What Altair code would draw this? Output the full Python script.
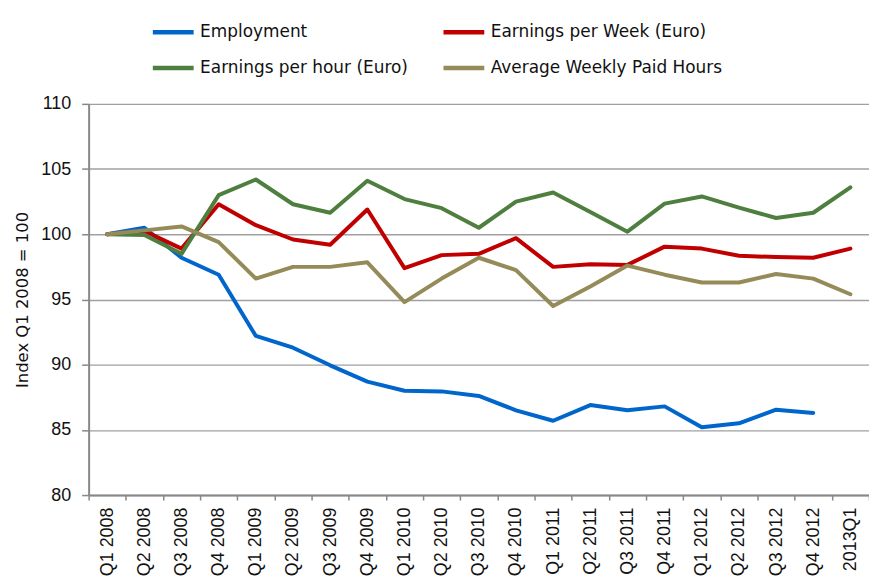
import altair as alt
import pandas as pd

quarters = ["Q1 2008", "Q2 2008", "Q3 2008", "Q4 2008",
            "Q1 2009", "Q2 2009", "Q3 2009", "Q4 2009",
            "Q1 2010", "Q2 2010", "Q3 2010", "Q4 2010",
            "Q1 2011", "Q2 2011", "Q3 2011", "Q4 2011",
            "Q1 2012", "Q2 2012", "Q3 2012", "Q4 2012", "2013Q1"]

employment = [100.0, 100.5, 98.2, 96.9, 92.2, 91.3, 89.95, 88.7, 88.0, 87.95, 87.6,
              86.5, 85.7, 86.9, 86.5, 86.8, 85.2, 85.5, 86.55, 86.3, None]
earn_week = [100.0, 100.25, 98.9, 102.3, 100.7, 99.6, 99.2, 101.9, 97.4, 98.4, 98.5,
             99.7, 97.5, 97.7, 97.65, 99.05, 98.9, 98.35, 98.25, 98.2, 98.9]
earn_hour = [100.0, 99.95, 98.5, 103.0, 104.2, 102.3, 101.65, 104.1, 102.7, 102.0, 100.5,
             102.5, 103.2, 101.7, 100.2, 102.35, 102.9, 102.05, 101.25, 101.65, 103.6]
avg_hours = [100.0, 100.3, 100.6, 99.4, 96.6, 97.5, 97.5, 97.85, 94.8, 96.6, 98.2,
             97.25, 94.5, 96.0, 97.6, 96.9, 96.3, 96.3, 96.95, 96.6, 95.4]

series_names = ["Employment", "Earnings per Week (Euro)",
                "Earnings per hour (Euro)", "Average Weekly Paid Hours"]
series_values = [employment, earn_week, earn_hour, avg_hours]
series_colors = ["#0066CC", "#C00000", "#4F7F3F", "#958B58"]

rows = []
for name, vals in zip(series_names, series_values):
    for q, v in zip(quarters, vals):
        if v is not None:
            rows.append({"quarter": q, "series": name, "value": v})
df = pd.DataFrame(rows)

chart = alt.Chart(df).mark_line(strokeWidth=4, strokeJoin="round", strokeCap="round").encode(
    x=alt.X("quarter:N", sort=quarters, title=None,
            scale=alt.Scale(type="band", paddingInner=0, paddingOuter=0),
            axis=alt.Axis(labelAngle=270, tickBand="extent", grid=False,
                          labelFont="Liberation Sans", labelFontSize=18,
                          labelColor="#111111", labelPadding=7,
                          tickSize=5, tickColor="#888888", tickWidth=1.5,
                          domainColor="#888888", domainWidth=2)),
    y=alt.Y("value:Q", title="Index Q1 2008 = 100",
            scale=alt.Scale(domain=[80, 110], nice=False, zero=False),
            axis=alt.Axis(values=[80, 85, 90, 95, 100, 105, 110],
                          grid=True, gridColor="#A0A0A0", gridWidth=1.4,
                          labelFont="Liberation Sans", labelFontSize=18,
                          labelColor="#111111", labelPadding=11,
                          tickSize=7, tickColor="#888888", tickWidth=1.5,
                          domainColor="#888888", domainWidth=2,
                          titleFont="DejaVu Sans", titleFontSize=16.5,
                          titleFontWeight="normal", titleColor="#111111",
                          titlePadding=10)),
    color=alt.Color("series:N",
                    scale=alt.Scale(domain=series_names, range=series_colors),
                    legend=alt.Legend(title=None, orient="none", legendX=62, legendY=-95,
                                      direction="horizontal",
                                      columns=2, columnPadding=26, rowPadding=4,
                                      symbolType="stroke", symbolSize=1681,
                                      symbolStrokeWidth=4.5, labelOffset=4,
                                      labelFont="DejaVu Sans", labelFontSize=17,
                                      labelColor="#111111", padding=0,
                                      labelLimit=400)),
).properties(
    width=784, height=393,
    autosize=alt.AutoSizeParams(type="none"),
    padding={"left": 81, "top": 95, "right": 0, "bottom": 80},
).configure_view(stroke=None)

chart.save("out.html", embed_options={"renderer": "svg", "actions": False})
